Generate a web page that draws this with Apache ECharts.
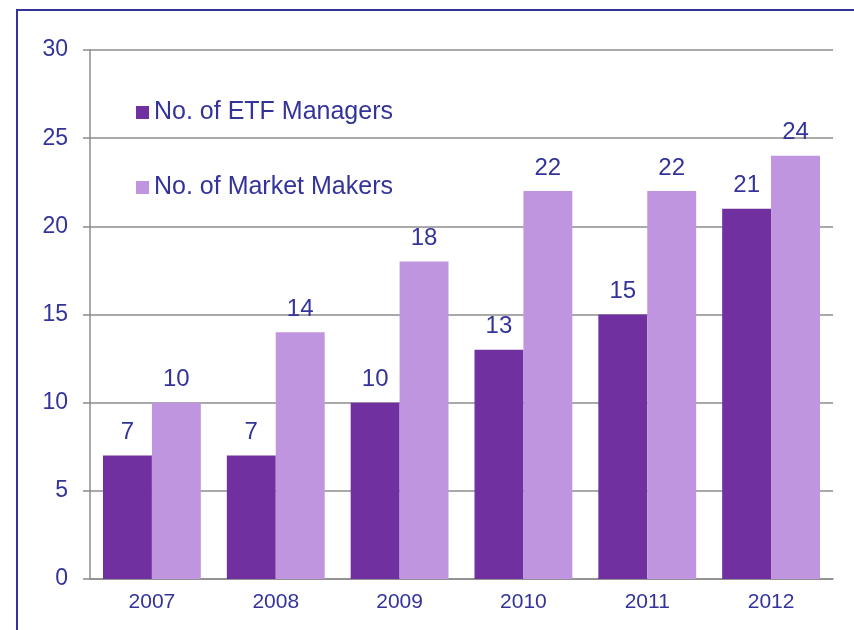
<!DOCTYPE html>
<html>
<head>
<meta charset="utf-8">
<script src="https://cdn.jsdelivr.net/npm/echarts@6/dist/echarts.min.js"></script>
<style>
html,body{margin:0;padding:0;background:#fff;}
#main{width:854px;height:630px;}
</style>
</head>
<body>
<div id="main"></div>
<script>
var years = ['2007','2008','2009','2010','2011','2012'];
var etfManagers = [7, 7, 10, 13, 15, 21];
var marketMakers = [10, 14, 18, 22, 22, 24];
var seriesNames = ['No. of ETF Managers', 'No. of Market Makers'];

var textColor = '#333399';
var lineColor = '#8c8c8c';
var fontName = 'Liberation Sans, Arial';

var myChart = echarts.init(document.getElementById('main'));

var option = {
    backgroundColor: '#fff',
    animation: false,
    //外框
    graphic: [{
        type: 'rect',
        shape: {x: 17, y: 10, width: 900, height: 700},
        style: {fill: 'none', stroke: '#333399', lineWidth: 2}
    }],
    legend: {
        data: seriesNames,
        orient: 'vertical',
        left: 131,
        top: 95,
        itemWidth: 13,
        itemHeight: 13,
        itemGap: 50,
        icon: 'rect',
        textStyle: {color: textColor, fontSize: 25, fontFamily: fontName}
    },
    grid: {left: 90, right: 21, top: 50, bottom: 51, containLabel: false},
    xAxis: {
        type: 'category',
        data: years,
        axisLine: {lineStyle: {color: lineColor, width: 1.5}},
        axisTick: {length: 6, lineStyle: {color: lineColor, width: 1.5}},
        axisLabel: {color: textColor, fontSize: 21, fontFamily: fontName, margin: 13}
    },
    yAxis: {
        type: 'value',
        min: 0,
        max: 30,
        interval: 5,
        axisLine: {show: true, lineStyle: {color: lineColor, width: 1.5}},
        axisTick: {show: true, length: 7, lineStyle: {color: lineColor, width: 1.5}},
        splitLine: {lineStyle: {color: lineColor, width: 1.5}},
        axisLabel: {color: textColor, fontSize: 23, fontFamily: fontName, margin: 22}
    },
    series: [{
        name: seriesNames[0],
        type: 'bar',
        data: etfManagers,
        barGap: '0%',
        barCategoryGap: '21%',
        itemStyle: {color: '#7030A0'},
        label: {show: true, position: 'top', distance: 11, color: textColor, fontSize: 24, fontFamily: fontName}
    }, {
        name: seriesNames[1],
        type: 'bar',
        data: marketMakers,
        barGap: '0%',
        barCategoryGap: '21%',
        itemStyle: {color: '#BF95DF'},
        label: {show: true, position: 'top', distance: 11, color: textColor, fontSize: 24, fontFamily: fontName}
    }]
};

myChart.setOption(option);
</script>
</body>
</html>
